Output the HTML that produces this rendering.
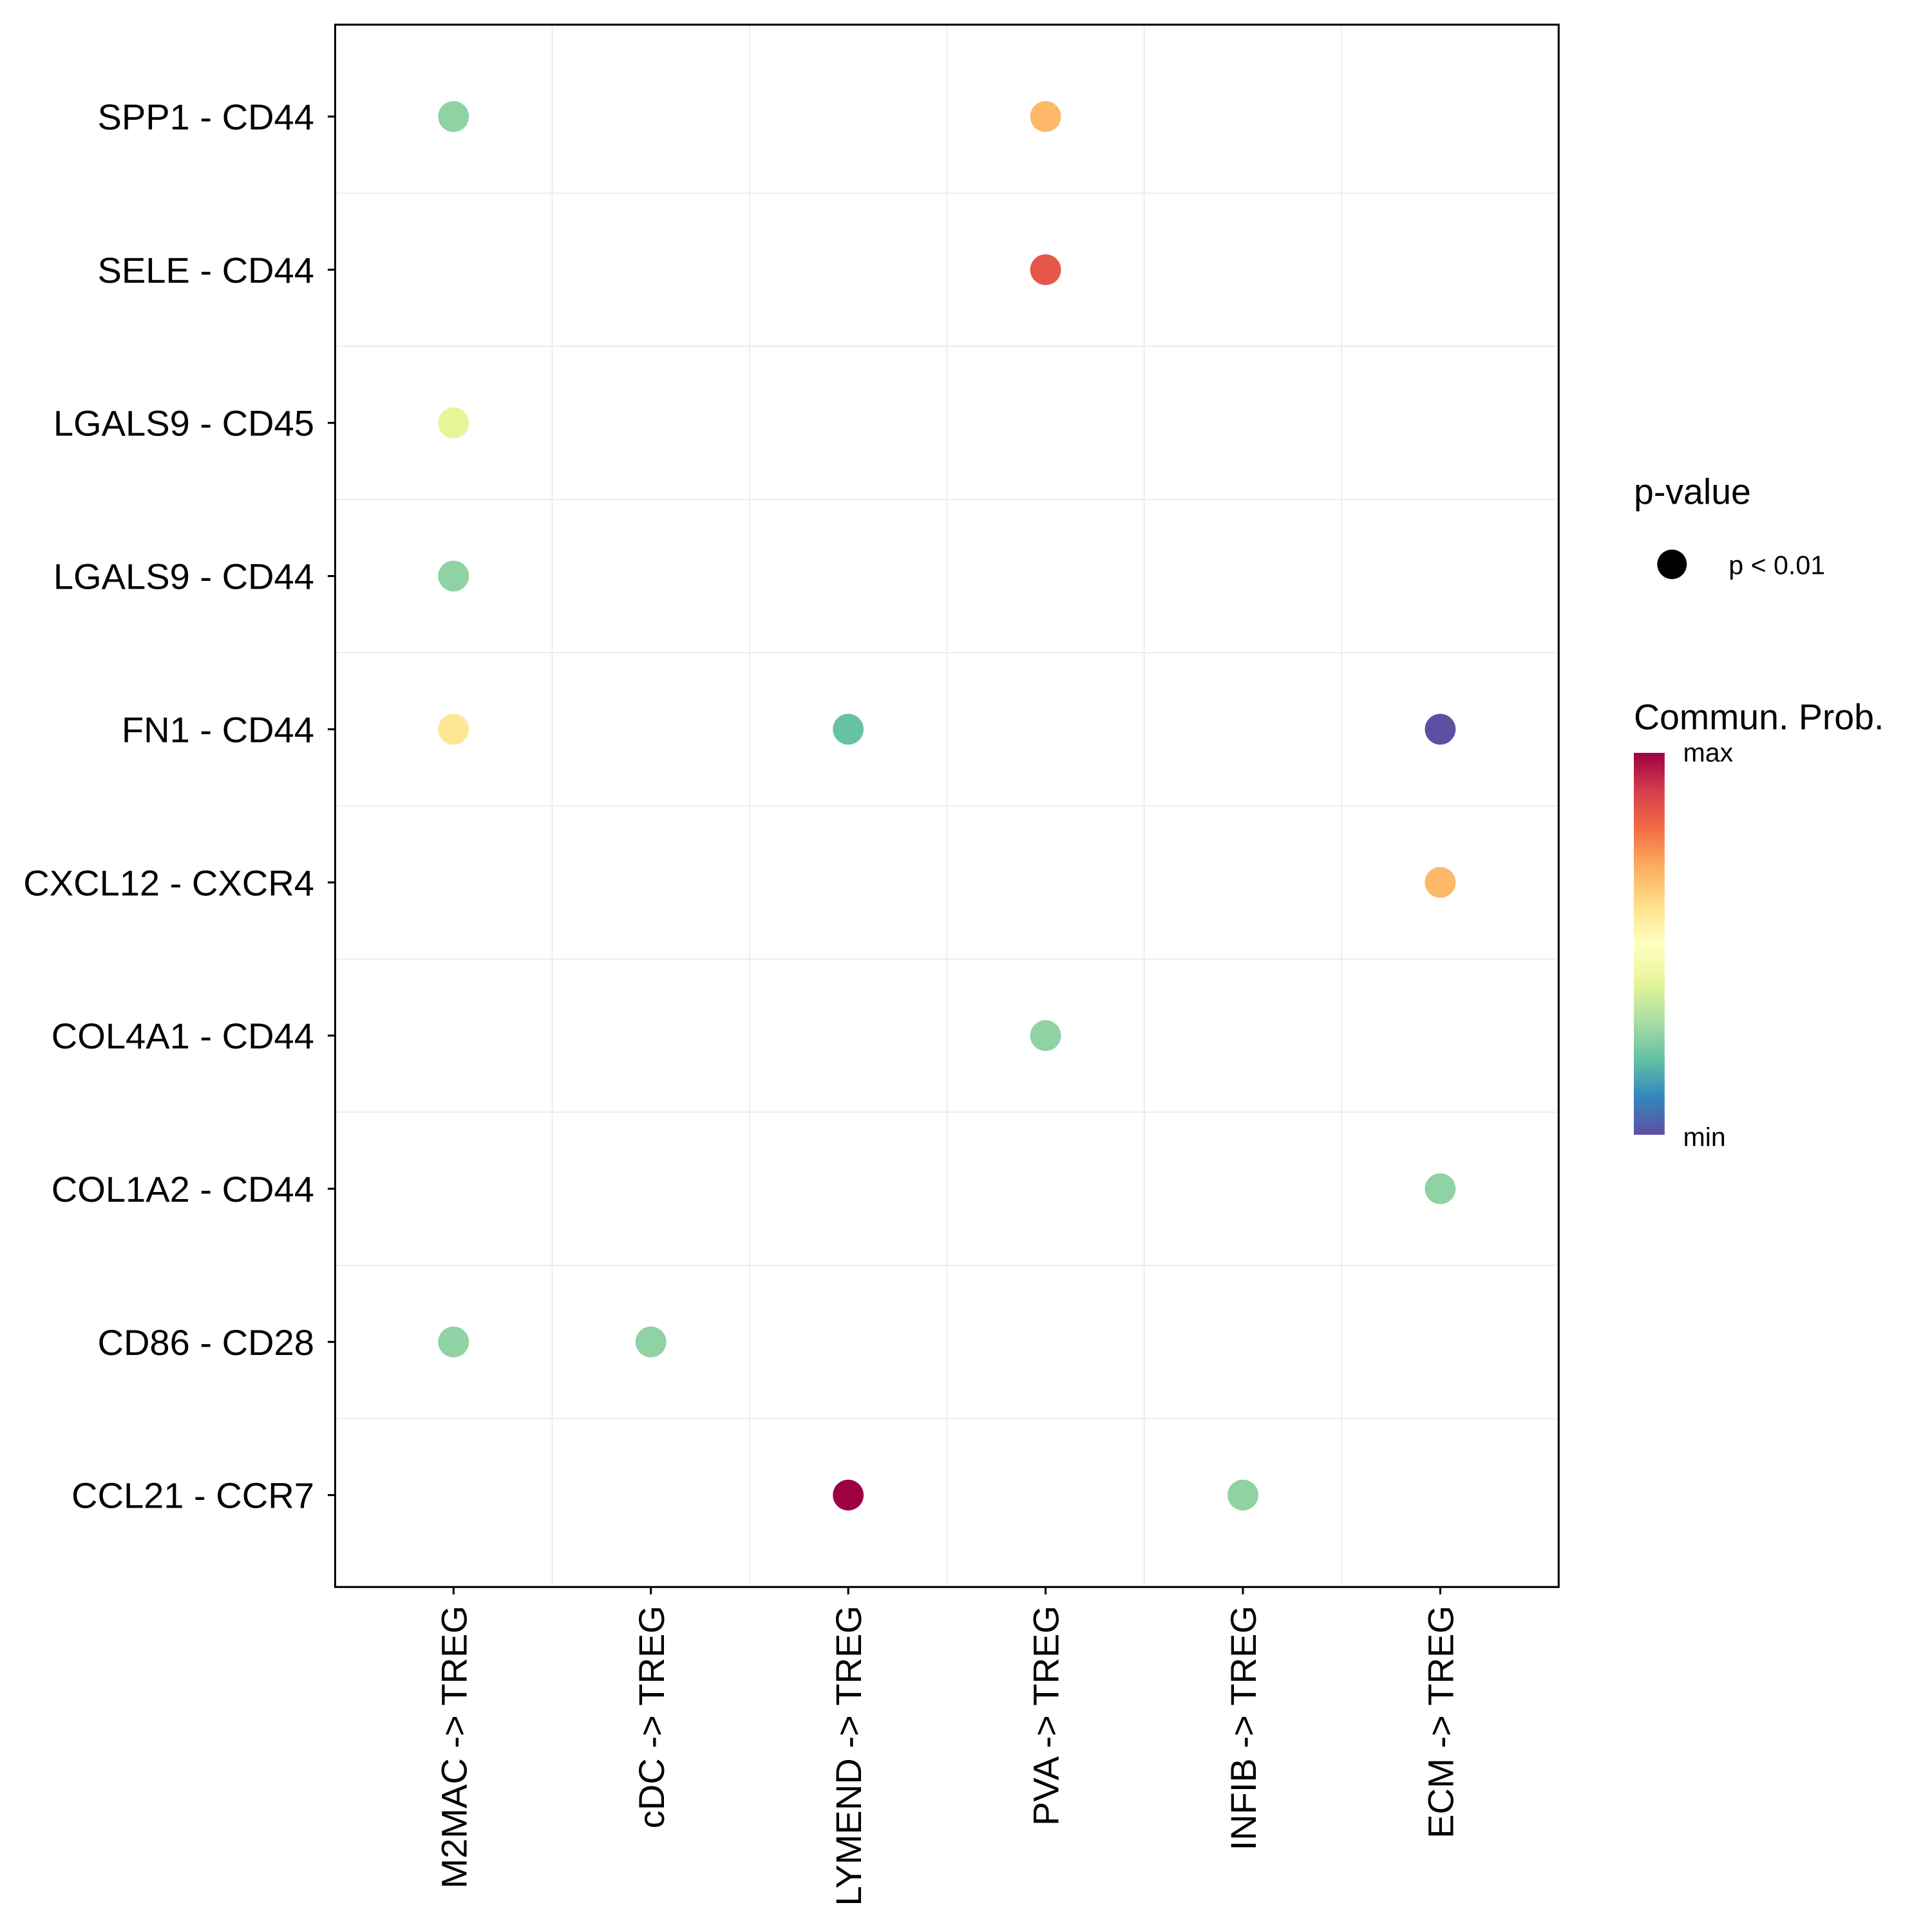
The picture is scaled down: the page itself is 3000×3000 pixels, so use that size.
<!DOCTYPE html>
<html><head><meta charset="utf-8"><style>
html,body{margin:0;padding:0;background:#fff;}
svg{display:block;font-family:"Liberation Sans",sans-serif;}
</style></head><body>
<svg id="chart" width="3000" height="3000" viewBox="0 0 1568 1568" xmlns="http://www.w3.org/2000/svg">
<defs>
<linearGradient id="spec" x1="0" y1="1" x2="0" y2="0">
<stop offset="0" stop-color="#5e4fa2"/><stop offset="0.1" stop-color="#3288bd"/><stop offset="0.2" stop-color="#66c2a5"/><stop offset="0.3" stop-color="#abdda4"/><stop offset="0.4" stop-color="#e6f598"/><stop offset="0.5" stop-color="#ffffbf"/><stop offset="0.6" stop-color="#fee08b"/><stop offset="0.7" stop-color="#fdae61"/><stop offset="0.8" stop-color="#f46d43"/><stop offset="0.9" stop-color="#d53e4f"/><stop offset="1" stop-color="#9e0142"/>
</linearGradient>
</defs>
<g id="grid"></g>
<g id="marks"></g>
<rect x="272" y="20" width="993" height="1268" fill="none" stroke="#000" stroke-width="1.6"/>
<g id="axes"></g>
<g>
<text x="1326" y="409" font-size="29">p-value</text>
<circle cx="1357" cy="458" r="12" fill="#000"/>
<text x="1403" y="466" font-size="21.5">p &lt; 0.01</text>
</g>
<g>
<text x="1326" y="592" font-size="29">Commun. Prob.</text>
<rect x="1326" y="611" width="25" height="310" fill="url(#spec)"/>
<text x="1366" y="618" font-size="21.5">max</text>
<text x="1366" y="930" font-size="21.5">min</text>
</g>
</svg>
<script>
const categories = ["M2MAC -> TREG","cDC -> TREG","LYMEND -> TREG","PVA -> TREG","INFIB -> TREG","ECM -> TREG"];
const pairs = ["SPP1 - CD44","SELE - CD44","LGALS9 - CD45","LGALS9 - CD44","FN1 - CD44","CXCL12 - CXCR4","COL4A1 - CD44","COL1A2 - CD44","CD86 - CD28","CCL21 - CCR7"];
const pointCat = ["M2MAC -> TREG","PVA -> TREG","PVA -> TREG","M2MAC -> TREG","M2MAC -> TREG","M2MAC -> TREG","LYMEND -> TREG","ECM -> TREG","ECM -> TREG","PVA -> TREG","ECM -> TREG","M2MAC -> TREG","cDC -> TREG","LYMEND -> TREG","INFIB -> TREG"];
const pointPair = ["SPP1 - CD44","SPP1 - CD44","SELE - CD44","LGALS9 - CD45","LGALS9 - CD44","FN1 - CD44","FN1 - CD44","FN1 - CD44","CXCL12 - CXCR4","COL4A1 - CD44","COL1A2 - CD44","CD86 - CD28","CD86 - CD28","CCL21 - CCR7","CCL21 - CCR7"];
const pointProb = [0.26,0.68,0.85,0.4,0.26,0.58,0.2,0.0,0.68,0.26,0.26,0.26,0.26,1.0,0.26];

const NS="http://www.w3.org/2000/svg";
const X0=272,X1=1265,Y0=20,Y1=1288;
const xStep=(X1-X0)/(categories.length-1+1.2);
const yStep=(Y1-Y0)/(pairs.length-1+1.2);
function xPos(c){return X0+xStep*(0.6+categories.indexOf(c));}
function yPos(p){return Y0+yStep*(0.6+pairs.indexOf(p));}
const pal=["#5e4fa2","#3288bd","#66c2a5","#abdda4","#e6f598","#ffffbf","#fee08b","#fdae61","#f46d43","#d53e4f","#9e0142"];
function color(v){const t=Math.max(0,Math.min(1,v))*10;const i=Math.min(9,Math.floor(t));const f=t-i;
 const a=pal[i],b=pal[i+1];const c=k=>Math.round(parseInt(a.substr(k,2),16)*(1-f)+parseInt(b.substr(k,2),16)*f);
 return `rgb(${c(1)},${c(3)},${c(5)})`;}
function mk(tag,attrs,parent){const e=document.createElementNS(NS,tag);for(const k in attrs)e.setAttribute(k,attrs[k]);parent.appendChild(e);return e;}
const grid=document.getElementById('grid'),marks=document.getElementById('marks'),axes=document.getElementById('axes');
for(let i=0;i<categories.length-1;i++){const x=(xPos(categories[i])+xPos(categories[i+1]))/2;
 const l=mk('line',{x1:x,x2:x,y1:Y0,y2:Y1,stroke:'#ebebeb','stroke-width':1},grid);
 
 }
for(let i=0;i<pairs.length-1;i++){const y=(yPos(pairs[i])+yPos(pairs[i+1]))/2;
 const l=mk('line',{x1:X0,x2:X1,y1:y,y2:y,stroke:'#ebebeb','stroke-width':1},grid);
 
 }
for(let i=0;i<pointProb.length;i++){
 const c=mk('circle',{cx:xPos(pointCat[i]),cy:yPos(pointPair[i]),r:12.5,fill:color(pointProb[i])},marks);
 
 }
categories.forEach(c=>{const x=xPos(c);
 const t=mk('line',{x1:x,x2:x,y1:Y1,y2:Y1+6,stroke:'#000','stroke-width':1.6},axes);
 
 
 const tx=mk('text',{x:0,y:0,'font-size':29.3,'text-anchor':'end',transform:`translate(${x+10.5},${Y1+15}) rotate(-90)`},axes);
 tx.textContent=c;
 
 });
pairs.forEach(p=>{const y=yPos(p);
 const t=mk('line',{x1:X0-6,x2:X0,y1:y,y2:y,stroke:'#000','stroke-width':1.6},axes);
 
 
 const tx=mk('text',{x:X0-17,y:y+10.5,'font-size':29.3,'text-anchor':'end'},axes);
 tx.textContent=p;
 
 });
</script>
</body></html>
